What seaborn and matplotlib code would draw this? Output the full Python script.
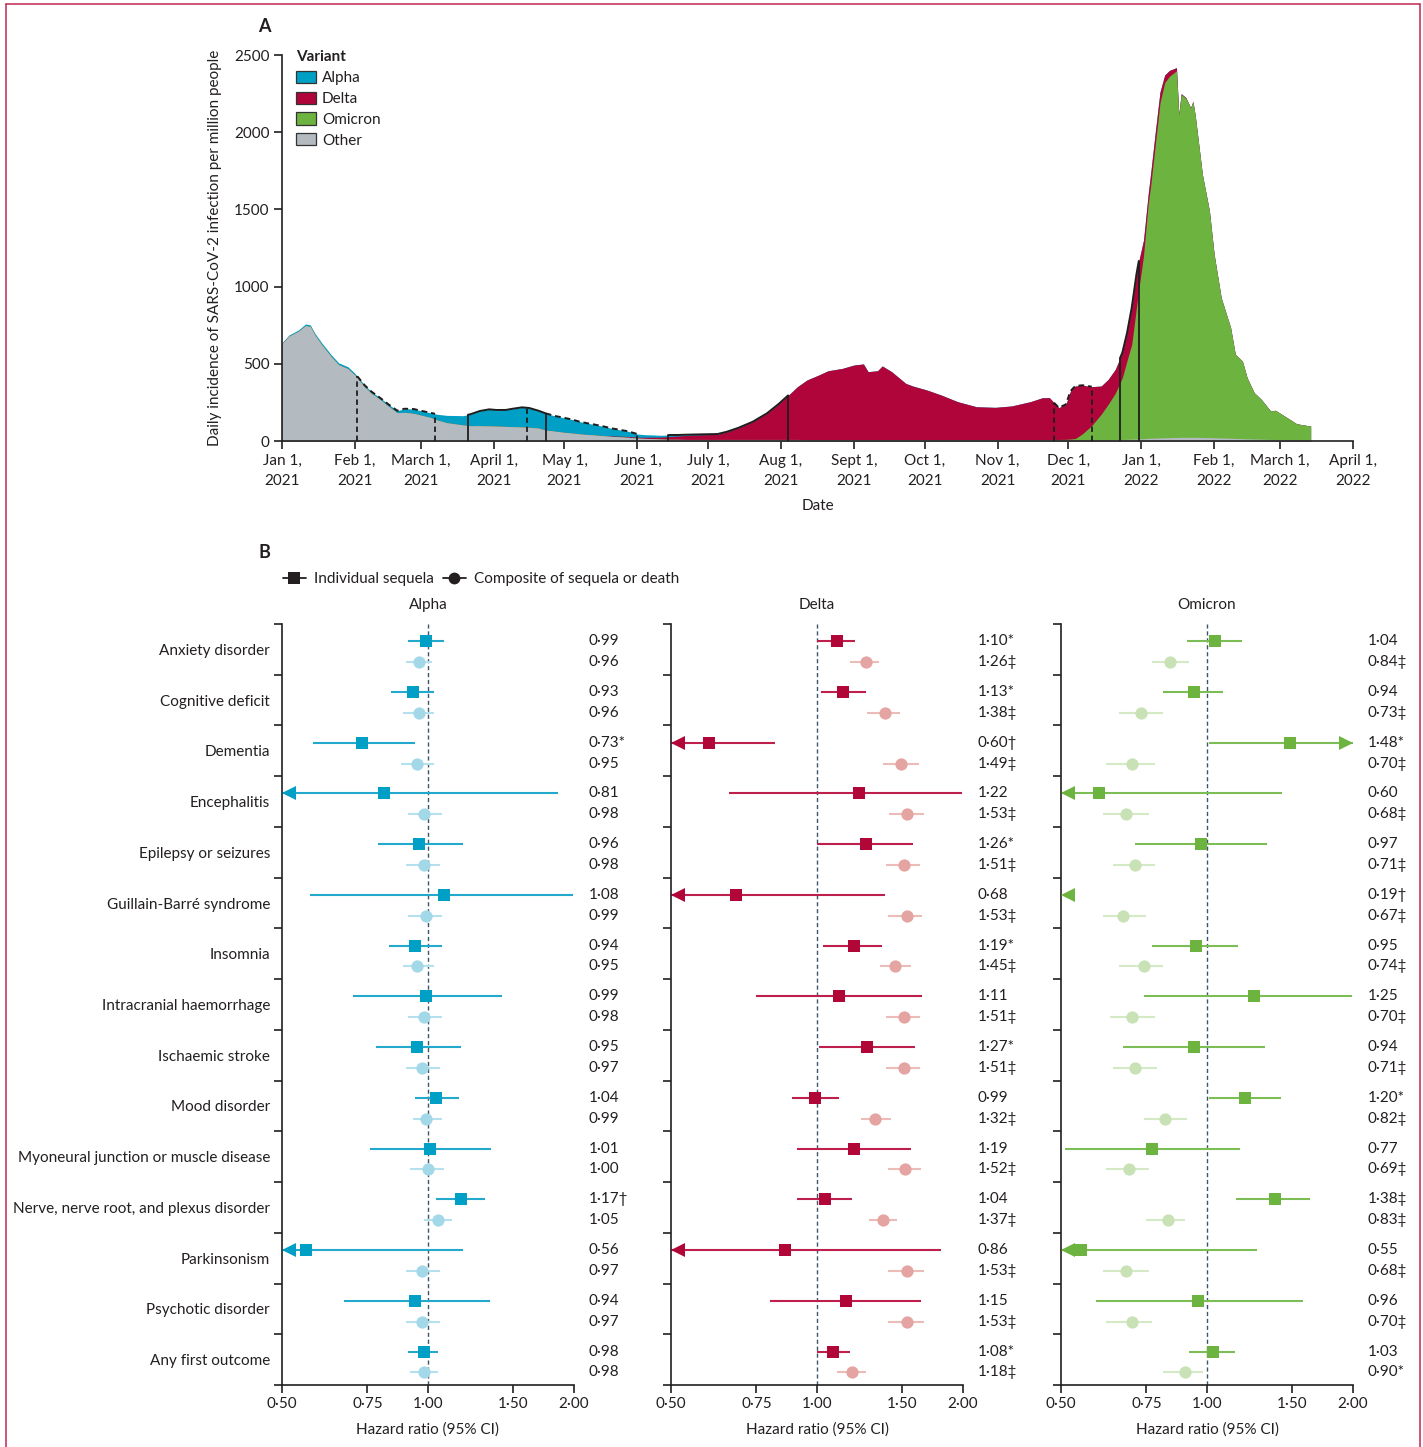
import numpy as np
import pandas as pd
import matplotlib
matplotlib.use("Agg")
import matplotlib.pyplot as plt
import matplotlib.transforms as mtransforms
from matplotlib.lines import Line2D
from matplotlib.patches import Patch
import seaborn as sns

# ---------------- Panel A: daily incidence by variant ----------------
dates = [
    "2021-01-01", "2021-01-04", "2021-01-08", "2021-01-11", "2021-01-13", "2021-01-15", "2021-01-18", "2021-01-22", "2021-01-25", "2021-01-29",
    "2021-02-01", "2021-02-05", "2021-02-08", "2021-02-12", "2021-02-15", "2021-02-19", "2021-02-22", "2021-02-26",
    "2021-03-01", "2021-03-05", "2021-03-08", "2021-03-12", "2021-03-19", "2021-03-22", "2021-03-26", "2021-03-30",
    "2021-04-02", "2021-04-06", "2021-04-09", "2021-04-13", "2021-04-16", "2021-04-20", "2021-04-23", "2021-04-27", "2021-04-30",
    "2021-05-04", "2021-05-07", "2021-05-11", "2021-05-14", "2021-05-18", "2021-05-21", "2021-05-25", "2021-05-28",
    "2021-06-01", "2021-06-04", "2021-06-08", "2021-06-11", "2021-06-15", "2021-06-18", "2021-06-22", "2021-06-28",
    "2021-07-05", "2021-07-09", "2021-07-14", "2021-07-20", "2021-07-26", "2021-07-31",
    "2021-08-05", "2021-08-08", "2021-08-12", "2021-08-17", "2021-08-21", "2021-08-27",
    "2021-09-01", "2021-09-05", "2021-09-07", "2021-09-11", "2021-09-13", "2021-09-17", "2021-09-23", "2021-09-26",
    "2021-10-02", "2021-10-08", "2021-10-15", "2021-10-23", "2021-10-31",
    "2021-11-07", "2021-11-15", "2021-11-20", "2021-11-23", "2021-11-25", "2021-11-27", "2021-11-30",
    "2021-12-02", "2021-12-04", "2021-12-07", "2021-12-11", "2021-12-15", "2021-12-18", "2021-12-21", "2021-12-24", "2021-12-26", "2021-12-28", "2021-12-30", "2021-12-31",
    "2022-01-02", "2022-01-04", "2022-01-05", "2022-01-07", "2022-01-09", "2022-01-11", "2022-01-13", "2022-01-16", "2022-01-17", "2022-01-18", "2022-01-20", "2022-01-22", "2022-01-23", "2022-01-24", "2022-01-27", "2022-01-30",
    "2022-02-01", "2022-02-04", "2022-02-08", "2022-02-10", "2022-02-13", "2022-02-15", "2022-02-18", "2022-02-21", "2022-02-25", "2022-02-27",
    "2022-03-04", "2022-03-08", "2022-03-11", "2022-03-14",
]

other = [
    632, 680, 711, 748, 742, 686, 621, 545, 495, 469,
    427, 352, 309, 266, 228, 183, 186, 179,
    168, 153, 136, 119, 104, 99, 99, 98,
    97, 95, 93, 91, 89, 84, 71, 64, 58,
    52, 47, 42, 39, 34, 30, 27, 24,
    19, 17, 15, 13, 11, 11, 10, 10,
    10, 10, 10, 10, 10, 10,
    10, 10, 9, 9, 9, 9,
    9, 9, 9, 9, 9, 9, 9, 9,
    9, 9, 8, 8, 8,
    8, 8, 8, 8, 8, 8, 8,
    8, 8, 8, 8, 8, 8, 9, 10, 11, 12, 13, 14,
    15, 17, 18, 19, 20, 21, 22, 23, 23, 24, 24, 24, 24, 24, 23, 22,
    21, 20, 18, 17, 15, 14, 13, 12, 10, 10,
    9, 8, 8, 8,
]

alpha = [
    5, 7, 8, 10, 10, 11, 12, 12, 12, 12,
    11, 11, 11, 10, 12, 13, 23, 28,
    28, 30, 37, 47, 60, 74, 95, 107,
    104, 106, 116, 127, 125, 112, 108, 98, 95,
    88, 80, 72, 67, 58, 49, 40, 34,
    20, 17, 14, 12, 10, 7, 5, 3,
    2, 1, 0, 0, 0, 0,
] + [0] * 68

delta = [0] * 35 + [
    0, 0, 0, 0, 1, 3, 4, 5,
    6, 7, 10, 12, 18, 21, 26, 30,
    33, 49, 76, 115, 169, 230,
    299, 342, 386, 418, 446, 461,
    483, 490, 440, 446, 477, 440, 364, 347,
    321, 289, 247, 214, 210,
    219, 247, 272, 272, 239, 206, 226,
    311, 340, 315, 252, 183, 161, 155, 162, 179, 238, 216, 186,
    100, 63, 79, 81, 70, 49, 38, 20, 8, 5, 4, 2, 1, 0, 0, 0,
] + [0] * 14

omicron = [0] * 76 + [
    0, 0, 0, 1, 1, 2, 3,
    5, 8, 38, 92, 165, 230, 300, 400, 510, 614, 851, 966,
    1185, 1520, 1630, 1900, 2170, 2300, 2340, 2375, 2085, 2221, 2196, 2133, 2175, 2081, 1704, 1468,
    1188, 908, 716, 544, 503, 396, 300, 258, 184, 189,
    142, 104, 96, 89,
]

month_ticks = ["2021-01-01", "2021-02-01", "2021-03-01", "2021-04-01", "2021-05-01", "2021-06-01",
               "2021-07-01", "2021-08-01", "2021-09-01", "2021-10-01", "2021-11-01", "2021-12-01",
               "2022-01-01", "2022-02-01", "2022-03-01", "2022-04-01"]
month_labels = ["Jan 1,\n2021", "Feb 1,\n2021", "March 1,\n2021", "April 1,\n2021", "May 1,\n2021",
                "June 1,\n2021", "July 1,\n2021", "Aug 1,\n2021", "Sept 1,\n2021", "Oct 1,\n2021",
                "Nov 1,\n2021", "Dec 1,\n2021", "Jan 1,\n2022", "Feb 1,\n2022", "March 1,\n2022",
                "April 1,\n2022"]

# study-period boundaries (date, line style) and outlined stretches of the total curve
period_marks = [("2021-02-02", "dashed"), ("2021-03-07", "dashed"), ("2021-03-21", "solid"),
                ("2021-04-15", "dashed"), ("2021-04-23", "solid"), ("2021-06-01", "dashed"),
                ("2021-06-14", "solid"), ("2021-08-04", "solid"), ("2021-11-25", "dashed"),
                ("2021-12-11", "dashed"), ("2021-12-23", "solid"), ("2021-12-31", "solid")]
period_outline = [("2021-02-02", "2021-03-07", "dashed"), ("2021-03-21", "2021-04-23", "solid"),
                  ("2021-04-23", "2021-06-01", "dashed"), ("2021-06-14", "2021-08-04", "solid"),
                  ("2021-11-25", "2021-12-11", "dashed"), ("2021-12-23", "2021-12-31", "solid")]

# ---------------- Panel B: hazard ratios ----------------
outcomes = ["Anxiety disorder", "Cognitive deficit", "Dementia", "Encephalitis",
            "Epilepsy or seizures", "Guillain-Barré syndrome", "Insomnia",
            "Intracranial haemorrhage", "Ischaemic stroke", "Mood disorder",
            "Myoneural junction or muscle disease", "Nerve, nerve root, and plexus disorder",
            "Parkinsonism", "Psychotic disorder", "Any first outcome"]

alpha_seq_hr = [0.99, 0.93, 0.73, 0.81, 0.96, 1.08, 0.94, 0.99, 0.95, 1.04, 1.01, 1.17, 0.56, 0.94, 0.98]
alpha_seq_lo = [0.91, 0.84, 0.58, 0.35, 0.79, 0.57, 0.83, 0.70, 0.78, 0.94, 0.76, 1.04, 0.27, 0.67, 0.91]
alpha_seq_hi = [1.08, 1.03, 0.94, 1.85, 1.18, 1.99, 1.07, 1.42, 1.17, 1.16, 1.35, 1.31, 1.18, 1.34, 1.05]
alpha_seq_sig = ["", "", "*", "", "", "", "", "", "", "", "", "†", "", "", ""]
alpha_cmp_hr = [0.96, 0.96, 0.95, 0.98, 0.98, 0.99, 0.95, 0.98, 0.97, 0.99, 1.00, 1.05, 0.97, 0.97, 0.98]
alpha_cmp_lo = [0.90, 0.89, 0.88, 0.91, 0.90, 0.91, 0.89, 0.91, 0.90, 0.93, 0.92, 0.98, 0.90, 0.90, 0.92]
alpha_cmp_hi = [1.02, 1.03, 1.03, 1.07, 1.06, 1.07, 1.03, 1.07, 1.06, 1.07, 1.08, 1.12, 1.06, 1.06, 1.05]
alpha_cmp_sig = [""] * 15

delta_seq_hr = [1.10, 1.13, 0.60, 1.22, 1.26, 0.68, 1.19, 1.11, 1.27, 0.99, 1.19, 1.04, 0.86, 1.15, 1.08]
delta_seq_lo = [1.00, 1.02, 0.44, 0.66, 1.00, 0.34, 1.03, 0.75, 1.01, 0.89, 0.91, 0.91, 0.41, 0.80, 1.00]
delta_seq_hi = [1.20, 1.26, 0.82, 1.99, 1.58, 1.38, 1.36, 1.65, 1.59, 1.11, 1.56, 1.18, 1.80, 1.64, 1.17]
delta_seq_sig = ["*", "*", "†", "", "*", "", "*", "", "*", "", "", "", "", "", "*"]
delta_cmp_hr = [1.26, 1.38, 1.49, 1.53, 1.51, 1.53, 1.45, 1.51, 1.51, 1.32, 1.52, 1.37, 1.53, 1.53, 1.18]
delta_cmp_lo = [1.17, 1.27, 1.37, 1.41, 1.39, 1.40, 1.35, 1.39, 1.39, 1.23, 1.40, 1.28, 1.40, 1.40, 1.10]
delta_cmp_hi = [1.34, 1.48, 1.62, 1.66, 1.63, 1.65, 1.56, 1.63, 1.63, 1.42, 1.64, 1.46, 1.66, 1.66, 1.26]
delta_cmp_sig = ["‡"] * 15

omicron_seq_hr = [1.04, 0.94, 1.48, 0.60, 0.97, 0.19, 0.95, 1.25, 0.94, 1.20, 0.77, 1.38, 0.55, 0.96, 1.03]
omicron_seq_lo = [0.91, 0.81, 1.01, 0.25, 0.71, 0.08, 0.77, 0.74, 0.67, 1.01, 0.51, 1.15, 0.24, 0.59, 0.92]
omicron_seq_hi = [1.18, 1.08, 2.17, 1.43, 1.33, 0.47, 1.16, 1.99, 1.32, 1.42, 1.17, 1.63, 1.27, 1.58, 1.14]
omicron_seq_sig = ["", "", "*", "", "", "†", "", "", "", "*", "", "‡", "", "", ""]
omicron_cmp_hr = [0.84, 0.73, 0.70, 0.68, 0.71, 0.67, 0.74, 0.70, 0.71, 0.82, 0.69, 0.83, 0.68, 0.70, 0.90]
omicron_cmp_lo = [0.77, 0.66, 0.62, 0.61, 0.64, 0.61, 0.66, 0.63, 0.64, 0.74, 0.62, 0.75, 0.61, 0.62, 0.81]
omicron_cmp_hi = [0.92, 0.81, 0.78, 0.76, 0.78, 0.75, 0.81, 0.78, 0.79, 0.91, 0.76, 0.90, 0.76, 0.77, 0.98]
omicron_cmp_sig = ["‡"] * 14 + ["*"]

hr_ticks = [0.5, 0.75, 1.0, 1.5, 2.0]

# ---------------- styling ----------------
sns.set_theme(style="ticks")
INK = "#231F20"
plt.rcParams["font.family"] = ["Lato", "DejaVu Sans"]
plt.rcParams.update({
    "font.size": 11, "text.color": INK, "axes.labelcolor": INK,
    "xtick.color": INK, "ytick.color": INK, "axes.edgecolor": INK,
    "axes.linewidth": 1.2, "xtick.major.width": 1.2, "ytick.major.width": 1.2,
    "xtick.labelsize": 11, "ytick.labelsize": 11, "axes.labelsize": 11,
})

C_OTHER, C_ALPHA, C_DELTA, C_OMI = "#B3BAC0", "#009FC6", "#B0053A", "#6DB33F"

W, H = 1423, 1447
fig = plt.figure(figsize=(W / 100, H / 100), dpi=100)


def rect(l, t, r, b):
    return [l / W, 1 - b / H, (r - l) / W, (b - t) / H]


# ---- Panel A ----
axA = fig.add_axes(rect(282, 55, 1353, 441))
x = pd.to_datetime(dates)
layers = [("Other", other, C_OTHER), ("Omicron", omicron, C_OMI),
          ("Delta", delta, C_DELTA), ("Alpha", alpha, C_ALPHA)]
cum = np.cumsum(np.array([l[1] for l in layers], dtype=float), axis=0)
total = cum[-1]
# draw cumulative layers from the top down, each filled from zero
for (name, vals, col), top in reversed(list(zip(layers, cum))):
    axA.fill_between(x, 0, top, color=col, lw=0, zorder=1)

xnum = x.values.astype("datetime64[D]").astype(float)


def total_at(d):
    dn = np.asarray(pd.to_datetime(d).values.astype("datetime64[D]").astype(float))
    return np.interp(dn, xnum, total)


for start, end, ls in period_outline:
    seg = pd.date_range(start, end, freq="D")
    axA.plot(seg, total_at(seg), color="#1E1E1E", lw=1.4,
             linestyle=(0, (3, 2)) if ls == "dashed" else "-", zorder=3)
for d, ls in period_marks:
    axA.vlines(pd.Timestamp(d), 0, float(total_at([d])[0]), color="#1E1E1E", lw=1.3,
               linestyles=(0, (3, 2)) if ls == "dashed" else "-", zorder=3)

axA.set_xlim(pd.Timestamp("2021-01-01"), pd.Timestamp("2022-04-01"))
axA.set_ylim(0, 2500)
axA.set_yticks([0, 500, 1000, 1500, 2000, 2500])
axA.set_xticks(pd.to_datetime(month_ticks))
axA.set_xticklabels(month_labels, linespacing=1.55)
axA.tick_params(axis="both", length=6, pad=3)
axA.set_xlabel("Date", labelpad=8)
axA.set_ylabel("Daily incidence of SARS-CoV-2 infection per million people", labelpad=9)
sns.despine(ax=axA)
axA.grid(False)

handlesA = [Patch(facecolor=c, edgecolor="#333333", lw=0.9, label=n)
            for n, c in [("Alpha", C_ALPHA), ("Delta", C_DELTA), ("Omicron", C_OMI), ("Other", C_OTHER)]]
legA = axA.legend(handles=handlesA, title="Variant", loc="upper left",
                  bbox_to_anchor=((296 - 282) / 1071, 1.012), frameon=False, alignment="left",
                  handlelength=1.3, handleheight=0.85, labelspacing=0.42, handletextpad=0.4,
                  borderaxespad=0, borderpad=0, fontsize=11, title_fontsize=11)
legA.get_title().set_fontweight("bold")

# ---- Panel B ----
panels = [
    ("Alpha", 282, "#00A0C6", "#23A9CC", "#A3D8E9", "#B5E0EE",
     (alpha_seq_hr, alpha_seq_lo, alpha_seq_hi, alpha_seq_sig),
     (alpha_cmp_hr, alpha_cmp_lo, alpha_cmp_hi, alpha_cmp_sig)),
    ("Delta", 671, "#B10638", "#BE1F4D", "#E4A5A2", "#ECBCB9",
     (delta_seq_hr, delta_seq_lo, delta_seq_hi, delta_seq_sig),
     (delta_cmp_hr, delta_cmp_lo, delta_cmp_hi, delta_cmp_sig)),
    ("Omicron", 1061, "#6CB43F", "#7DBD55", "#C8E2B6", "#D4E9C5",
     (omicron_seq_hr, omicron_seq_lo, omicron_seq_hi, omicron_seq_sig),
     (omicron_cmp_hr, omicron_cmp_lo, omicron_cmp_hi, omicron_cmp_sig)),
]

ROW_SEQ, ROW_CMP = 0.34, 0.75
n = len(outcomes)
lo_lim, hi_lim = hr_ticks[0], hr_ticks[-1]


def fmt(v, sig):
    return f"{v:.2f}".replace(".", "·") + sig


for k, (title, left, c_sq, c_sqline, c_ci, c_ciline, seq, cmp_) in enumerate(panels):
    ax = fig.add_axes(rect(left, 624, left + 292, 1385))
    ax.set_xscale("log", base=2)
    ax.set_xlim(lo_lim, hi_lim)
    ax.set_ylim(n, 0)
    ax.axvline(1.0, color="#3D5568", lw=1.0, ls=(0, (3, 2)), zorder=1)
    trans = mtransforms.blended_transform_factory(ax.transAxes, ax.transData)
    arrow_off = 2 ** 0.045

    for (hr, lo, hi, sig), off, cm, cl, mk, ms in [
        (seq, ROW_SEQ, c_sq, c_sqline, "s", 72),
        (cmp_, ROW_CMP, c_ci, c_ciline, "o", 78),
    ]:
        hr, lo, hi = np.array(hr), np.array(lo), np.array(hi)
        ys = np.arange(n) + off
        ax.hlines(ys, np.clip(lo, lo_lim, hi_lim), np.clip(hi, lo_lim, hi_lim),
                  color=cl, lw=1.5, zorder=2)
        df = pd.DataFrame({"hr": hr, "y": ys})
        sns.scatterplot(data=df, x="hr", y="y", marker=mk, s=ms, color=cm,
                        linewidth=0, ax=ax, zorder=3, legend=False)
        left_cut = lo < lo_lim
        right_cut = hi > hi_lim
        if left_cut.any():
            ax.plot(np.full(left_cut.sum(), lo_lim * arrow_off), ys[left_cut], ls="none",
                    marker="<", ms=10.5, color=cm, mew=0, clip_on=False, zorder=4)
        if right_cut.any():
            ax.plot(np.full(right_cut.sum(), hi_lim / arrow_off), ys[right_cut], ls="none",
                    marker=">", ms=10.5, color=cm, mew=0, clip_on=False, zorder=4)
        for yv, v, s in zip(ys, hr, sig):
            ax.text(1.05, yv, fmt(v, s), transform=trans, ha="left", va="center", fontsize=11)

    ax.set_xticks(hr_ticks)
    ax.set_xticklabels([fmt(t, "") for t in hr_ticks])
    ax.xaxis.set_minor_locator(matplotlib.ticker.NullLocator())
    ax.set_yticks(np.arange(n + 1))
    ax.set_yticklabels([])
    ax.tick_params(axis="both", length=6, pad=3)
    ax.set_xlabel("Hazard ratio (95% CI)", labelpad=8)
    ax.set_ylabel("")
    ax.set_title(title, fontsize=11, pad=11)
    sns.despine(ax=ax)
    ax.grid(False)
    if k == 0:
        for i, name in enumerate(outcomes):
            ax.text(-0.041, i + 0.53, name, transform=trans, ha="right", va="center", fontsize=11)

legend_handles = [
    Line2D([], [], color=INK, marker="s", ms=8, lw=1.3, mew=0),
    Line2D([], [], color=INK, marker="o", ms=8.5, lw=1.3, mew=0),
]
fig.legend(legend_handles, ["Individual sequela", "Composite of sequela or death"],
           loc="center left", bbox_to_anchor=(283 / W, 1 - 579 / H), ncol=2, frameon=False,
           handlelength=1.5, handletextpad=0.55, columnspacing=0.55, borderpad=0, borderaxespad=0,
           fontsize=11)

# panel letters
fig.text(264 / W, 1 - 27 / H, "A", fontsize=13, fontweight="bold", ha="center", va="center")
fig.text(264 / W, 1 - 553 / H, "B", fontsize=13, fontweight="bold", ha="center", va="center")

# page frame (open at the bottom)
frame_col = "#C2264F"
fig.add_artist(Line2D([5.5 / W, 5.5 / W], [0, 1 - 3.5 / H], color=frame_col, lw=1.1))
fig.add_artist(Line2D([1419.5 / W, 1419.5 / W], [0, 1 - 3.5 / H], color=frame_col, lw=1.1))
fig.add_artist(Line2D([5.5 / W, 1419.5 / W], [1 - 3.5 / H, 1 - 3.5 / H], color=frame_col, lw=1.1))

fig.savefig("out.png", dpi=100, facecolor="white")
